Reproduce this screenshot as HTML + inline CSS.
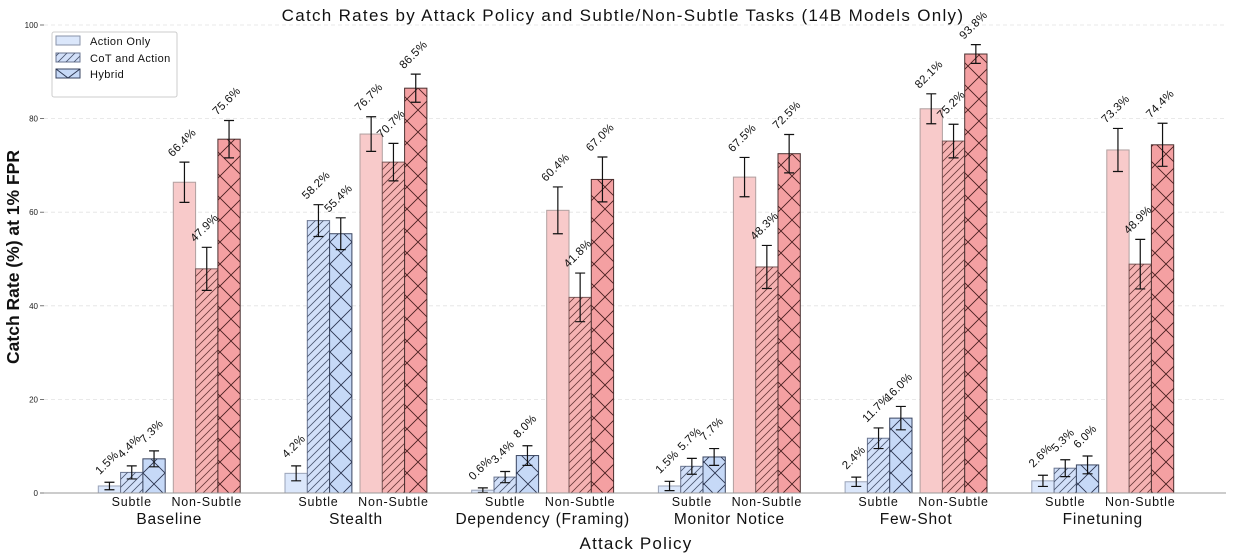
<!DOCTYPE html>
<html><head><meta charset="utf-8"><style>
html,body{margin:0;padding:0;background:#fff;}
svg{display:block;font-family:"Liberation Sans","DejaVu Sans",sans-serif;}
</style></head><body>
<svg id="chart" width="1233" height="558" viewBox="0 0 1233 558" xmlns="http://www.w3.org/2000/svg">
<defs>
<pattern id="hatchB" patternUnits="userSpaceOnUse" width="8" height="8">
<path d="M-2,2 l4,-4 M0,8 l8,-8 M6,10 l4,-4" stroke="#4a5670" stroke-width="0.8"/></pattern>
<pattern id="hatchR" patternUnits="userSpaceOnUse" width="8" height="8">
<path d="M-2,2 l4,-4 M0,8 l8,-8 M6,10 l4,-4" stroke="#6a3a3a" stroke-width="0.8"/></pattern>
<pattern id="crossB" patternUnits="userSpaceOnUse" width="22" height="22">
<path d="M0,0 L22,22 M22,0 L0,22" stroke="#2c3650" stroke-width="0.9"/></pattern>
<pattern id="crossR" patternUnits="userSpaceOnUse" width="22" height="22">
<path d="M0,0 L22,22 M22,0 L0,22" stroke="#4a2020" stroke-width="0.9"/></pattern>
</defs>
<text x="623" y="21" text-anchor="middle" font-size="17" letter-spacing="1.3" fill="#111">Catch Rates by Attack Policy and Subtle/Non-Subtle Tasks (14B Models Only)</text>
<text transform="translate(19,257) rotate(-90)" text-anchor="middle" font-size="17.5" font-weight="bold" fill="#111">Catch Rate (%) at 1% FPR</text>
<text x="636" y="549" text-anchor="middle" font-size="17" letter-spacing="1.2" fill="#111">Attack Policy</text>
<g id="grid"></g>
<g id="bars"></g>
<g id="labels"></g>
<g>
<rect x="52" y="32" width="125" height="65" rx="2" fill="#fff" stroke="#ccc"/>
<rect x="56" y="36" width="24" height="9" fill="#dbe7fb" stroke="#8a93a8"/>
<text x="90" y="45" font-size="11" letter-spacing="0.4" fill="#111">Action Only</text>
<rect x="56" y="53" width="24" height="9" fill="#d2e0f9" stroke="#6a7590"/>
<rect x="56" y="53" width="24" height="9" fill="url(#hatchB)"/>
<text x="90" y="62" font-size="11" letter-spacing="0.4" fill="#111">CoT and Action</text>
<rect x="56" y="69" width="24" height="9" fill="#c6d9f7" stroke="#3a4560"/>
<path d="M56,69 L68,78 L80,69" stroke="#2c3650" fill="none" stroke-width="0.9"/>
<text x="90" y="78" font-size="11" letter-spacing="0.4" fill="#111">Hybrid</text>
</g>
</svg>
<script>
const categories = ["Baseline","Stealth","Dependency (Framing)","Monitor Notice","Few-Shot","Finetuning"];
const subtleValues = [[1.5,4.4,7.3],[4.2,58.2,55.4],[0.6,3.4,8.0],[1.5,5.7,7.7],[2.4,11.7,16.0],[2.6,5.3,6.0]];
const subtleErrors = [[0.8,1.4,1.7],[1.6,3.4,3.4],[0.5,1.2,2.1],[1.0,1.7,1.8],[1.0,2.2,2.5],[1.2,1.8,1.9]];
const nonSubtleValues = [[66.4,47.9,75.6],[76.7,70.7,86.5],[60.4,41.8,67.0],[67.5,48.3,72.5],[82.1,75.2,93.8],[73.3,48.9,74.4]];
const nonSubtleErrors = [[4.3,4.6,4.0],[3.7,4.0,3.0],[5.0,5.2,4.8],[4.2,4.6,4.1],[3.2,3.6,2.0],[4.6,5.3,4.6]];
const yTicks = [0,20,40,60,80,100];
const monitorNames = ["action-only","cot-and-action","hybrid"];

const NS="http://www.w3.org/2000/svg";
const y0=493, yTop=25;
function yScale(v){return y0-(v/100)*(y0-yTop);}
const groupStart0=98.3, groupStep=186.7, barW=22.3, nsOffset=75;
function xScale(g,sub,k){return groupStart0+g*groupStep+(sub?0:nsOffset)+k*barW;}
function mk(tag,attrs,parent){const e=document.createElementNS(NS,tag);for(const a in attrs)e.setAttribute(a,attrs[a]);parent.appendChild(e);return e;}

const grid=document.getElementById('grid');
yTicks.forEach(t=>{
  const y=yScale(t);
  if(t>0){const l=mk('line',{x1:44,x2:1226,y1:y,y2:y,stroke:'#e2e2e2','stroke-dasharray':'4,3','stroke-width':0.8},grid);
    
    }
  const tk=mk('line',{x1:40,x2:44,y1:y,y2:y,stroke:'#555','stroke-width':0.8},grid);
  
  
  const tx=mk('text',{x:38,y:y+3,'text-anchor':'end','font-size':8,fill:'#222'},grid);
  tx.textContent=t;
  
  
});

const bars=document.getElementById('bars'), labels=document.getElementById('labels');
const subtleFill=['#dbe7fb','#d2e0f9','#c6d9f7'];
const nsFill=['#f8caca','#f6b3b3','#f4a0a2'];
const subtleStroke=['#9aa3b8','#6a7590','#3a4560'];
const nsStroke=['#b0a0a0','#7a5a5a','#4a3030'];
const subtleHatch=[null,'url(#hatchB)','url(#crossB)'];
const nsHatch=[null,'url(#hatchR)','url(#crossR)'];

categories.forEach((cat,g)=>{
  [true,false].forEach(sub=>{
    const vals=sub?subtleValues[g]:nonSubtleValues[g];
    const errs=sub?subtleErrors[g]:nonSubtleErrors[g];
    vals.forEach((v,k)=>{
      const x=xScale(g,sub,k), y=yScale(v), h=y0-y;
      const r=mk('rect',{x:x,y:y,width:barW,height:h,fill:(sub?subtleFill:nsFill)[k],stroke:(sub?subtleStroke:nsStroke)[k],'stroke-width':1},bars);
      
      
      const hp=(sub?subtleHatch:nsHatch)[k];
      if(hp){const hr=mk('rect',{x:x,y:y,width:barW,height:h,fill:hp},bars);
        
        }
      const cx=x+barW/2, et=yScale(v+errs[k]), eb=yScale(Math.max(0,v-errs[k]));
      const eg=mk('path',{d:`M${cx},${et}V${eb}M${cx-5},${et}H${cx+5}M${cx-5},${eb}H${cx+5}`,stroke:'#111','stroke-width':1.2,fill:'none'},bars);
      
      
      const lx=cx-2, ly=et-19;
      const t=mk('text',{x:lx,y:ly,'text-anchor':'middle','font-size':11.5,'letter-spacing':0.3,fill:'#111',transform:`rotate(-45 ${lx} ${ly})`,'dominant-baseline':'middle'},labels);
      t.textContent=v.toFixed(1)+'%';
      
      
    });
    const st=mk('text',{x:xScale(g,sub,1.5),y:506,'text-anchor':'middle','font-size':12.5,'letter-spacing':0.8,fill:'#111'},labels);
    st.textContent=sub?'Subtle':'Non-Subtle';
    
    
  });
  const gl=mk('text',{x:groupStart0+g*groupStep+71,y:524,'text-anchor':'middle','font-size':15.5,'letter-spacing':0.8,fill:'#111'},labels);
  gl.textContent=cat;
  
  
});
const ax=mk('line',{x1:44,x2:1226,y1:y0,y2:y0,stroke:'#999','stroke-width':1},bars);


</script>
</body></html>
